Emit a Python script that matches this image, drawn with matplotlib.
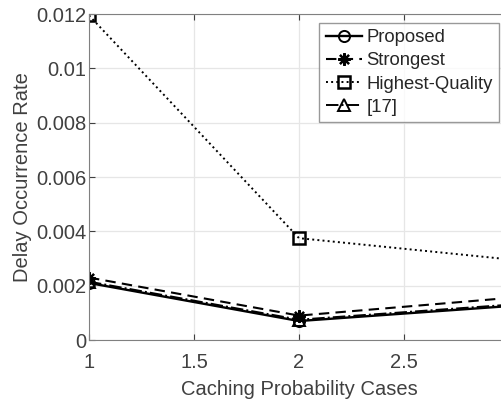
import matplotlib.pyplot as plt
import numpy as np

# Values
cases = [1, 2, 3]
proposed = [0.00210, 0.00070, 0.00125]
strongest = [0.00230, 0.00090, 0.00155]
highest_quality = [0.01195, 0.00375, 0.00297]
ref17 = [0.00215, 0.00075, 0.00130]

x_ticks = [1, 1.5, 2, 2.5, 3]
x_ticklabels = ['1', '1.5', '2', '2.5', '']   # "3" falls outside the cropped image
y_ticks = [0, 0.002, 0.004, 0.006, 0.008, 0.01, 0.012]
y_ticklabels = ['0', '0.002', '0.004', '0.006', '0.008', '0.01', '0.012']

plt.rcParams['font.family'] = ['Liberation Sans', 'DejaVu Sans']

fig = plt.figure(figsize=(5.02, 4.01), dpi=100)
# Axes deliberately runs past the right edge, like the cropped original
ax = fig.add_axes([0.1773, 0.152, 0.8367, 0.813])

ax.plot(cases, proposed, color='k', linestyle='-', linewidth=1.7,
        marker='o', markersize=8, markerfacecolor='none', markeredgewidth=1.4,
        label='Proposed')
ax.plot(cases, strongest, color='k', linestyle=(0, (5, 3)), linewidth=1.5,
        marker=(8, 2, 0), markersize=9, markeredgewidth=1.6, label='Strongest')
ax.plot(cases, highest_quality, color='k', linestyle=':', linewidth=1.4,
        marker='s', markersize=8, markerfacecolor='none', markeredgewidth=1.8,
        label='Highest-Quality')
ax.plot(cases, ref17, color='k', linestyle='-.', linewidth=1.4,
        marker='^', markersize=8, markerfacecolor='none', markeredgewidth=1.4,
        label='[17]')

ax.set_xlim(1, 3)
ax.set_ylim(0, 0.012)
ax.set_xticks(x_ticks)
ax.set_xticklabels(x_ticklabels)
ax.set_yticks(y_ticks)
ax.set_yticklabels(y_ticklabels)
ax.tick_params(direction='in', top=True, right=True, labelsize=14.5,
               colors='#404040', length=4)
ax.tick_params(axis='x', pad=9)
ax.tick_params(axis='y', pad=2)
for s in ax.spines.values():
    s.set_color('#808080')
ax.grid(True, color='#e6e6e6', linewidth=0.9)
ax.set_axisbelow(True)

ax.set_xlabel('Caching Probability Cases', fontsize=14.5, color='#404040',
              labelpad=6)
ax.set_ylabel('Delay Occurrence Rate', fontsize=14.5, color='#404040',
              labelpad=3)

leg = fig.legend(loc='upper right', bbox_to_anchor=(0.994, 0.943),
                 fontsize=13.3, frameon=True, fancybox=False, handlelength=2.0,
                 handletextpad=0.2, borderpad=0.35, labelspacing=0.33,
                 borderaxespad=0)
leg.get_frame().set_edgecolor('#808080')
leg.get_frame().set_linewidth(1.0)
for t in leg.get_texts():
    t.set_color('#262626')

fig.savefig('out.png', dpi=100)
